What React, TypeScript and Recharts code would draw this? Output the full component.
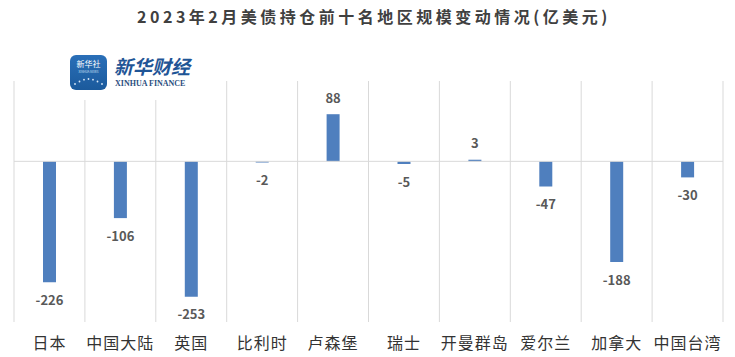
import React from "react";
import {
  BarChart,
  Bar,
  XAxis,
  YAxis,
  CartesianGrid,
  ReferenceLine,
  LabelList,
} from "recharts";

const regions = ["日本", "中国大陆", "英国", "比利时", "卢森堡", "瑞士", "开曼群岛", "爱尔兰", "加拿大", "中国台湾"];
const changes = [-226, -106, -253, -2, 88, -5, 3, -47, -188, -30];

const title = "2023年2月美债持仓前十名地区规模变动情况(亿美元)";
const font = '"Noto Sans CJK SC", "Noto Sans", sans-serif';

const data = regions.map((name, i) => ({ name, value: changes[i] }));

// value labels sit ~17px past the end of each bar
function ValueLabel(props: any) {
  const { x, y, width, height, value } = props;
  const top = Math.min(y, y + height);
  const bottom = Math.max(y, y + height);
  const ly = value >= 0 ? top - 17 : bottom + 17;
  return (
    <text
      x={x + width / 2}
      y={ly}
      textAnchor="middle"
      dominantBaseline="central"
      fill="#595959"
      fontSize={13}
      fontWeight="bold"
      fontFamily={font}
    >
      {value}
    </text>
  );
}

function CategoryTick(props: any) {
  const { x, y, payload } = props;
  return (
    <text
      x={x}
      y={y + 12}
      textAnchor="middle"
      dominantBaseline="central"
      fill="#333333"
      fontSize={16}
      letterSpacing={1}
      fontFamily={font}
    >
      {payload.value}
    </text>
  );
}

function Logo() {
  return (
    <div style={{ position: "absolute", left: 63, top: 48, width: 137, height: 52, background: "#ffffff" }}>
      <svg width={137} height={52}>
        <defs>
          <linearGradient id="lg" x1="0" y1="0" x2="0" y2="1">
            <stop offset="0%" stopColor="#2a6fb8" />
            <stop offset="100%" stopColor="#1b5a9c" />
          </linearGradient>
        </defs>
        <rect x={7} y={7} width={37} height={35} rx={6} fill="url(#lg)" />
        <text x={25.5} y={19} textAnchor="middle" fill="#ffffff" fontSize={8} fontFamily={font}>
          新华社
        </text>
        <text x={25.5} y={25} textAnchor="middle" fill="#cfe0f3" fontSize={3} fontFamily={font}>
          XINHUA NEWS
        </text>
        {[0, 1, 2, 3, 4, 5, 6].map((k) => (
          <circle key={k} cx={12 + k * 4.5} cy={36 - Math.sin((k / 6) * Math.PI) * 5} r={0.9} fill="#d8e8f8" />
        ))}
        <text x={51} y={26} fill="#1f5596" fontSize={19} fontStyle="italic" fontFamily={font} fontWeight="bold">
          新华财经
        </text>
        <text x={52} y={38} fill="#2b4e7e" fontSize={8} fontWeight="bold" fontFamily='"Liberation Serif", serif'>
          XINHUA FINANCE
        </text>
      </svg>
    </div>
  );
}

export default function App() {
  return (
    <div style={{ position: "absolute", left: 0, top: 0, width: 735, height: 357, background: "#ffffff" }}>
      <div
        style={{
          position: "absolute",
          left: 0,
          top: 5,
          width: 748,
          textAlign: "center",
          fontFamily: font,
          fontSize: 16,
          fontWeight: "bold",
          letterSpacing: 3.5,
          color: "#404040",
          lineHeight: "22px",
        }}
      >
        {title}
      </div>
      <BarChart
        width={735}
        height={357}
        data={data}
        margin={{ top: 81, right: 12, left: 14, bottom: 0 }}
        barCategoryGap={0}
      >
        <CartesianGrid
          horizontal={false}
          stroke="#d9d9d9"
          verticalCoordinatesGenerator={({ offset }: any) =>
            regions.map((_, i) => offset.left + (i * offset.width) / regions.length).concat(offset.left + offset.width)
          }
        />
        <XAxis dataKey="name" axisLine={false} tickLine={false} height={35} tick={<CategoryTick />} interval={0} />
        <YAxis hide domain={[-300, 150]} />
        <ReferenceLine y={0} stroke="#d9d9d9" />
        <Bar dataKey="value" fill="#4f7fbe" barSize={13} isAnimationActive={false}>
          <LabelList dataKey="value" content={<ValueLabel />} />
        </Bar>
      </BarChart>
      <Logo />
    </div>
  );
}
